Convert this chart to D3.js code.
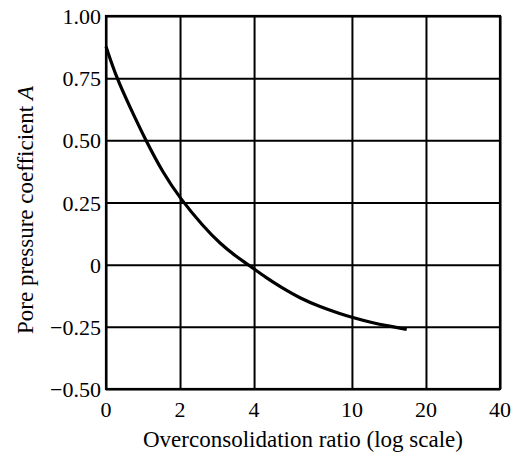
<!DOCTYPE html>
<html>
<head>
<meta charset="utf-8">
<script src="https://cdn.jsdelivr.net/npm/d3@7"></script>
<style>
body { margin: 0; background: #fff; }
text { font-family: "Liberation Serif", "DejaVu Serif", serif; fill: #000; }
</style>
</head>
<body>
<svg id="chart" width="513" height="454"></svg>
<script>
// overconsolidation ratio vs pore pressure coefficient A
const ocr = [1, 1.105, 1.25, 1.45, 1.71, 2, 2.49, 2.91, 3.4, 3.79, 4.51, 5.1, 6.15, 7.42, 8.95, 10.1, 11.9, 14.3, 16.7];
const coefA = [0.877, 0.75, 0.635, 0.50, 0.367, 0.267, 0.153, 0.085, 0.031, 0, -0.055, -0.088, -0.135, -0.169, -0.197, -0.213, -0.232, -0.248, -0.26];

const xTicks = [1, 2, 4, 10, 20, 40];
const xTickLabels = ["0", "2", "4", "10", "20", "40"];
const yTicks = [-0.5, -0.25, 0, 0.25, 0.5, 0.75, 1.0];
const yTickLabels = ["\u22120.50", "\u22120.25", "0", "0.25", "0.50", "0.75", "1.00"];

const svg = d3.select("#chart"),
      margin = { top: 16, right: 13, bottom: 65, left: 106 },
      width = +svg.attr("width") - margin.left - margin.right,
      height = +svg.attr("height") - margin.top - margin.bottom;

const g = svg.append("g")
  .attr("transform", `translate(${margin.left},${margin.top})`);

const x = d3.scaleLog()
  .domain([1, 40])
  .range([0, width]);

const y = d3.scaleLinear()
  .domain([-0.5, 1.0])
  .range([height, 0]);

/* GRID */

g.append("g")
  .attr("class", "grid")
  .attr("transform", `translate(0,${height})`)
  .call(d3.axisBottom(x).tickValues(xTicks).tickSize(-height).tickFormat(""))
  .call(a => a.select(".domain").remove())
  .selectAll("line")
  .attr("stroke", "#000")
  .attr("stroke-width", 2);

g.append("g")
  .attr("class", "grid")
  .call(d3.axisLeft(y).tickValues(yTicks).tickSize(-width).tickFormat(""))
  .call(a => a.select(".domain").remove())
  .selectAll("line")
  .attr("stroke", "#000")
  .attr("stroke-width", 2);

g.append("rect")
  .attr("width", width)
  .attr("height", height)
  .attr("fill", "none")
  .attr("stroke", "#000")
  .attr("stroke-width", 2.2);

/* TICK LABELS */

g.selectAll(".xlab")
  .data(xTicks)
  .enter().append("text")
  .attr("class", "xlab")
  .attr("x", d => x(d))
  .attr("y", height + 28)
  .attr("text-anchor", "middle")
  .attr("font-size", "22px")
  .text((d, i) => xTickLabels[i]);

g.selectAll(".ylab")
  .data(yTicks)
  .enter().append("text")
  .attr("class", "ylab")
  .attr("x", -5)
  .attr("y", d => y(d) + 8)
  .attr("text-anchor", "end")
  .attr("font-size", "22px")
  .text((d, i) => yTickLabels[i]);

/* AXIS TITLES */

g.append("text")
  .attr("x", width / 2)
  .attr("y", height + 58)
  .attr("text-anchor", "middle")
  .attr("font-size", "23px")
  .text("Overconsolidation ratio (log scale)");

const yt = g.append("text")
  .attr("transform", "rotate(-90)")
  .attr("x", -194)
  .attr("y", -73)
  .attr("text-anchor", "middle")
  .attr("font-size", "23px");
yt.append("tspan").text("Pore pressure coefficient ");
yt.append("tspan").attr("font-style", "italic").text("A");

/* CURVE */

const line = d3.line()
  .x((d, i) => x(ocr[i]))
  .y(d => y(d))
  .curve(d3.curveBasis);

g.append("path")
  .datum(coefA)
  .attr("d", line)
  .attr("fill", "none")
  .attr("stroke", "#000")
  .attr("stroke-width", 3.2);
</script>
</body>
</html>
